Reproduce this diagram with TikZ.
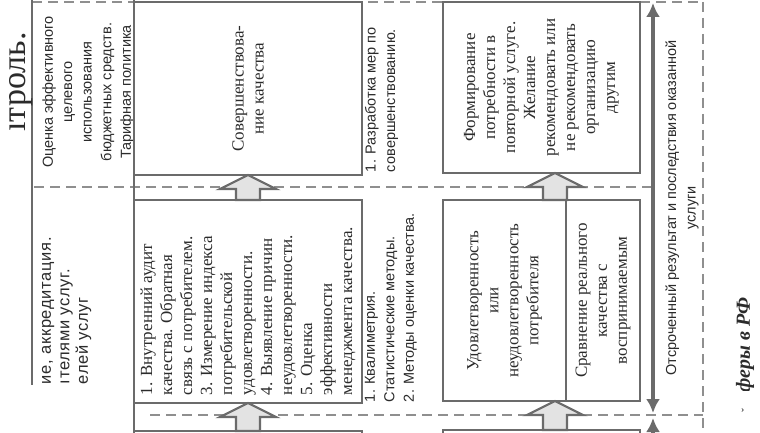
\documentclass[tikz,border=0pt]{standalone}
\usepackage{fontspec}
\setmainfont{Liberation Serif}
\newfontfamily\sansfont{Liberation Sans}
\usetikzlibrary{arrows.meta,positioning,calc}

\definecolor{framegray}{HTML}{6B6B6B}
\definecolor{dashgray}{HTML}{8F8F8F}
\definecolor{arrowfill}{HTML}{E3E3E3}
\definecolor{inkgray}{HTML}{2B2B2B}

\newcommand\uptextc[2]{\rotatebox{90}{\parbox{#1}{\centering #2}}}
\newcommand\uptextl[2]{\rotatebox{90}{\parbox{#1}{\raggedright #2}}}
\newcommand\serifsz{\fontsize{17}{20}\selectfont}
\newcommand\sanssz{\sansfont\fontsize{14.5}{19.5}\selectfont}

% wide grey arrow from the top of one box to the bottom of the next
\newcommand\blockup[2]{%
  \draw[blockarr] let \p1=#1, \p2=#2 in
    (\x1-12pt,\y1) -- (\x1-12pt,\y2-14pt) -- (\x1-28pt,\y2-14pt) -- (\x1,\y2)
    -- (\x1+28pt,\y2-14pt) -- (\x1+12pt,\y2-14pt) -- (\x1+12pt,\y1) -- cycle;}

\begin{document}
\begin{tikzpicture}[x=1pt,y=-1pt,
    cell/.style 2 args={draw=framegray, line width=2.6pt, fill=white,
        anchor=north west, inner sep=0pt, outer sep=0pt,
        minimum width=#1pt, minimum height=#2pt, text=inkgray},
    note/.style={inner sep=0pt, outer sep=0pt, text=inkgray},
    rowline/.style={dashgray, line width=1.3pt, dash pattern=on 10pt off 6pt},
    rule/.style={framegray, line width=2.6pt},
    blockarr/.style={draw=framegray, line width=2.2pt, fill=arrowfill},
    span/.style={framegray, line width=3.6pt,
        {Latex[length=14pt,width=14pt]}-{Latex[length=14pt,width=14pt]}},
    spanup/.style={framegray, line width=3.6pt, -{Latex[length=14pt,width=14pt]}}
  ]
\useasboundingbox (0,0) rectangle (760,433);
\clip (0,0) rectangle (760,433);
\fill[white] (0,0) rectangle (760,433);

% row dividers
\draw[rowline] (32,2) -- (703,2);
\draw[rowline] (34,187) -- (653,187);
\draw[rowline] (150,415) -- (703,415);
\draw[rowline] (703,2) -- (703,440);

% left column
\draw[rule] (32,-5) -- (32,385);
\draw[rule] (134,-5) -- (134,440);
\node[note, font=\fontsize{34}{36}\selectfont] (title) at (21,82) {\rotatebox{90}{ıтроль.}};
\node[note, font=\sanssz] (budget) at (88,92)
  {\uptextc{170pt}{Оценка эффективного\\целевого\\использования\\бюджетных средств.\\Тарифная политика}};
\node[note, font=\sansfont\fontsize{16.5}{18.5}\selectfont\addfontfeature{LetterSpace=4},
      anchor=south west] (licence) at (42,384)
  {\uptextl{190pt}{ие, аккредитация.\\ıтелями услуг.\\елей услуг}};

% quality boxes
\node[cell={228}{173}, font=\serifsz] (improve) at (134,2)
  {\uptextc{150pt}{Совершенствова-\\ние качества}};
\node[cell={228}{203}, font=\serifsz] (audit) at (134,200)
  {\uptextl{187pt}{1. Внутренний аудит\\качества. Обратная\\связь с потребителем.\\3. Измерение индекса\\потребительской\\удовлетворенности.\\4. Выявление причин\\неудовлетворенности.\\5. Оценка\\эффективности\\менеджмента качества.}};
\node[cell={228}{100}] (auditnext) at (134,431) {};

\node[note, font=\sanssz, anchor=south west] (measures) at (365,172)
  {\uptextl{160pt}{1. Разработка мер по\\совершенствованию.}};
\node[note, font=\sanssz, anchor=south west] (methods) at (365,402)
  {\uptextl{190pt}{1. Квалиметрия.\\Статистические методы.\\2. Методы оценки качества.}};

% consumer boxes
\node[cell={197}{171}, font=\serifsz] (forming) at (443,2)
  {\uptextc{165pt}{Формирование\\потребности в\\повторной услуге.\\Желание\\рекомендовать или\\не рекомендовать\\организацию\\другим}};
\node[cell={123}{201}, font=\serifsz] (satisf) at (443,200)
  {\uptextc{190pt}{Удовлетворенность\\или\\неудовлетворенность\\потребителя}};
\node[cell={74}{201}, font=\serifsz] (compare) at (566,200)
  {\uptextc{195pt}{Сравнение реального\\качества с\\воспринимаемым}};
\node[cell={197}{100}] (formingnext) at (443,430) {};

% arrows between boxes
\blockup{(audit.north)}{(improve.south)}
\blockup{(auditnext.north)}{(audit.south)}
\blockup{($(compare.north west)+(-11,0)$)}{(forming.south)}
\blockup{($(formingnext.north west)+(112,0)$)}{(satisf.south)}

% delayed result span
\coordinate (spantop) at (653,3);
\coordinate (spanbot) at (653,413);
\coordinate (nexttop) at (653,418);
\coordinate (nextbot) at (653,445);
\draw[span] (spantop) -- (spanbot);
\draw[spanup] (nextbot) -- (nexttop);
\node[note, font=\sanssz] (delayed) at (682,208)
  {\uptextc{360pt}{Отсроченный результат и последствия оказанной\\услуги}};

\begin{scope}
  \clip (725,290) rectangle (760,390);
  \node[note, font=\fontsize{20}{22}\selectfont\bfseries\itshape] (caption) at (745,345)
    {\rotatebox{90}{феры в РФ}};
\end{scope}
\node[note, font=\fontsize{12}{12}\selectfont] (mark) at (746,410) {\rotatebox{90}{ˇ}};
\end{tikzpicture}
\end{document}
